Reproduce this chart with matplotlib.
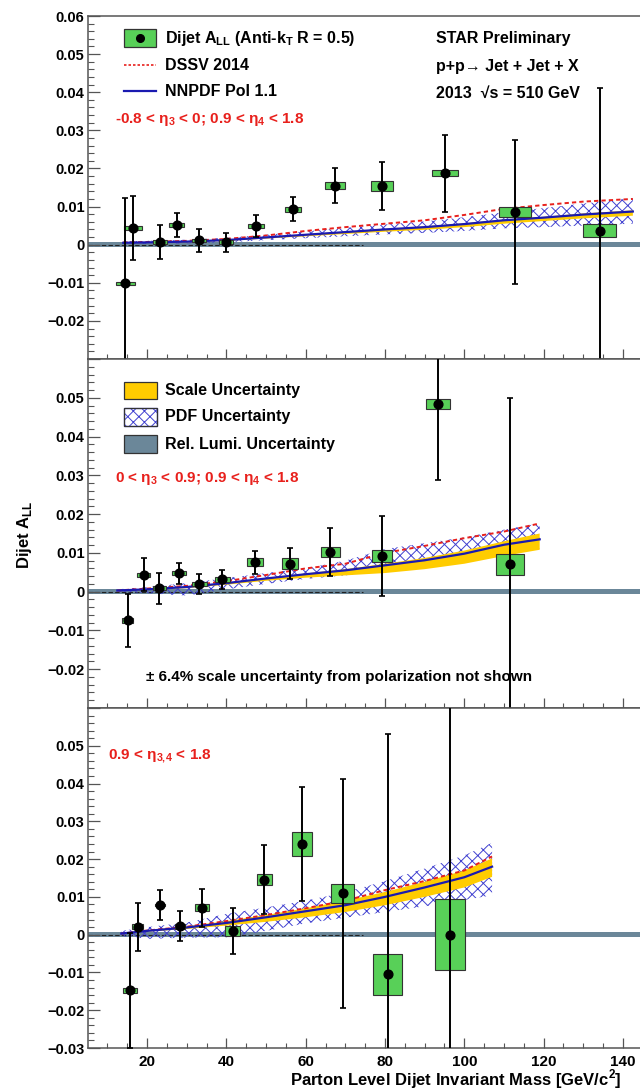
import matplotlib
matplotlib.use("Agg")
import matplotlib.pyplot as plt
from matplotlib.patches import Rectangle
from matplotlib.lines import Line2D
from matplotlib.ticker import MultipleLocator, FuncFormatter
import numpy as np

plt.rcParams['font.family'] = ['Liberation Sans', 'DejaVu Sans']
plt.rcParams['font.weight'] = 'bold'
plt.rcParams['hatch.linewidth'] = 0.7
plt.rcParams['axes.unicode_minus'] = True

# ---------------- data: top panel (-0.8<eta3<0; 0.9<eta4<1.8) ----------------
x_top = [14.5, 16.5, 23.3, 27.5, 33.1, 39.8, 47.5, 56.7, 67.4, 79.3, 95.2, 112.8, 134.1]
y_top = [-0.0101, 0.0044, 0.0007, 0.0051, 0.0011, 0.0006, 0.0049, 0.0093, 0.0155, 0.0154, 0.0188, 0.0086, 0.0036]
err_top = [0.0224, 0.0085, 0.0044, 0.0031, 0.0030, 0.0025, 0.0029, 0.0032, 0.0046, 0.0063, 0.0101, 0.0188, 0.0374]
sys_top = [0.0004, 0.0005, 0.0005, 0.0005, 0.0005, 0.0005, 0.0006, 0.0006, 0.0010, 0.0014, 0.0009, 0.0013, 0.0017]
bw_top = [4.9, 4.4, 3.4, 3.8, 3.5, 3.5, 4.0, 4.0, 5.0, 5.5, 6.5, 7.9, 8.4]

xth_top = [14, 20, 30, 40, 50, 60, 70, 80, 90, 100, 110, 120, 130, 142.5]
nnpdf_top = [0.0005, 0.0006, 0.0008, 0.0012, 0.0019, 0.0026, 0.0033, 0.0040, 0.0046, 0.0054, 0.0064, 0.0071, 0.0079, 0.0087]
dssv_top = [0.0006, 0.0007, 0.0010, 0.0015, 0.0024, 0.0036, 0.0046, 0.0055, 0.0064, 0.0078, 0.0094, 0.0104, 0.0113, 0.0120]
pdf_hi_top = [0.0009, 0.0010, 0.0013, 0.0018, 0.0026, 0.0035, 0.0044, 0.0053, 0.0061, 0.0072, 0.0085, 0.0096, 0.0108, 0.0122]
pdf_lo_top = [0.0001, 0.0002, 0.0003, 0.0006, 0.0012, 0.0017, 0.0022, 0.0027, 0.0031, 0.0036, 0.0043, 0.0046, 0.0050, 0.0055]
scale_hi_top = [0.0006, 0.0007, 0.0009, 0.0013, 0.0020, 0.0027, 0.0034, 0.0041, 0.0048, 0.0056, 0.0066, 0.0073, 0.0082, 0.0090]
scale_lo_top = [0.0004, 0.0005, 0.0006, 0.0010, 0.0016, 0.0022, 0.0028, 0.0034, 0.0039, 0.0046, 0.0055, 0.0062, 0.0069, 0.0076]

# ---------------- data: middle panel (0<eta3<0.9; 0.9<eta4<1.8) ----------------
x_mid = [15.1, 19.1, 23.1, 28.1, 33.2, 39.0, 47.2, 56.1, 66.2, 79.2, 93.3, 111.6]
y_mid = [-0.0074, 0.0044, 0.0009, 0.0048, 0.0020, 0.0032, 0.0076, 0.0072, 0.0102, 0.0092, 0.0484, 0.0071]
err_mid = [0.0069, 0.0043, 0.0040, 0.0027, 0.0026, 0.0024, 0.0030, 0.0040, 0.0062, 0.0102, 0.0195, 0.0428]
sys_mid = [0.0006, 0.0005, 0.0005, 0.0005, 0.0006, 0.0006, 0.0010, 0.0014, 0.0013, 0.0015, 0.0013, 0.0027]
bw_mid = [2.8, 3.5, 3.4, 3.5, 3.7, 3.6, 4.2, 4.0, 4.9, 5.2, 6.0, 7.1]

xth_mid = [12.5, 20, 30, 40, 50, 60, 70, 80, 90, 100, 110, 119]
nnpdf_mid = [0.0003, 0.0006, 0.0012, 0.0022, 0.0034, 0.0045, 0.0055, 0.0068, 0.0081, 0.0098, 0.0121, 0.0135]
dssv_mid = [0.0003, 0.0008, 0.0015, 0.0027, 0.0043, 0.0060, 0.0072, 0.0100, 0.0118, 0.0138, 0.0155, 0.0176]
pdf_hi_mid = [0.0006, 0.0012, 0.0022, 0.0035, 0.0048, 0.0060, 0.0080, 0.0110, 0.0125, 0.0140, 0.0160, 0.0176]
pdf_lo_mid = [0.0000, -0.0004, -0.0010, 0.0006, 0.0020, 0.0033, 0.0042, 0.0055, 0.0065, 0.0080, 0.0100, 0.0110]
scale_hi_mid = [0.0004, 0.0007, 0.0013, 0.0023, 0.0035, 0.0047, 0.0058, 0.0072, 0.0087, 0.0106, 0.0130, 0.0150]
scale_lo_mid = [0.0002, 0.0004, 0.0009, 0.0018, 0.0028, 0.0036, 0.0042, 0.0048, 0.0058, 0.0072, 0.0092, 0.0108]

# ---------------- data: bottom panel (0.9<eta3,4<1.8) ----------------
x_bot = [15.7, 17.6, 23.3, 28.3, 33.8, 41.6, 49.6, 59.0, 69.3, 80.7, 96.4]
y_bot = [-0.0147, 0.0021, 0.0078, 0.0022, 0.0071, 0.0009, 0.0146, 0.0240, 0.0109, -0.0105, 0.0000]
err_bot = [0.0152, 0.0064, 0.0039, 0.0040, 0.0051, 0.0061, 0.0091, 0.0152, 0.0303, 0.0635, 0.0650]
sys_bot = [0.0007, 0.0007, 0.0003, 0.0006, 0.0009, 0.0013, 0.0015, 0.0033, 0.0024, 0.0054, 0.0094]
bw_bot = [3.3, 2.6, 2.5, 2.6, 3.4, 3.8, 4.0, 5.0, 6.0, 7.3, 7.7]

xth_bot = [13.5, 20, 30, 40, 50, 60, 70, 80, 90, 100, 107]
nnpdf_bot = [0.0003, 0.0010, 0.0019, 0.0031, 0.0046, 0.0062, 0.0078, 0.0100, 0.0125, 0.0152, 0.0180]
dssv_bot = [0.0003, 0.0011, 0.0021, 0.0036, 0.0052, 0.0070, 0.0090, 0.0118, 0.0142, 0.0170, 0.0207]
pdf_hi_bot = [0.0010, 0.0020, 0.0032, 0.0055, 0.0072, 0.0090, 0.0112, 0.0142, 0.0175, 0.0210, 0.0243]
pdf_lo_bot = [-0.0004, -0.0011, -0.0008, -0.0007, 0.0010, 0.0030, 0.0045, 0.0060, 0.0075, 0.0092, 0.0104]
scale_hi_bot = [0.0004, 0.0012, 0.0022, 0.0036, 0.0052, 0.0070, 0.0090, 0.0113, 0.0140, 0.0170, 0.0202]
scale_lo_bot = [0.0002, 0.0008, 0.0015, 0.0024, 0.0034, 0.0046, 0.0060, 0.0078, 0.0100, 0.0125, 0.0153]

lumi_unc = 0.0006
xticks = [20, 40, 60, 80, 100, 120, 140]

# ---------------- styles ----------------
GREEN = '#58d058'
GOLD = '#ffcc00'
HATCH_C = '#4040d0'
LUMI = '#6b8799'
RED = '#e8201c'
BLUE = '#1a1ab0'
SPINE = '#555555'

W, H = 640, 1090
fig = plt.figure(figsize=(6.4, 10.9), dpi=100)

L = 88 / W
AW = 1 - L
ax_top = fig.add_axes([L, 1 - 359 / H, AW, 343 / H])
ax_mid = fig.add_axes([L, 1 - 708 / H, AW, 349 / H])
ax_bot = fig.add_axes([L, 1 - 1048 / H, AW, 340 / H])


def make_fmt(hidden):
    def f(v, pos):
        for h in hidden:
            if abs(v - h) < 1e-6:
                return ''
        if abs(v) < 1e-9:
            return '0'
        return ('%.2f' % v).replace('-', '\u2212')
    return FuncFormatter(f)


def draw_panel(ax, x, y, err, sysv, bw, xth, nn, ds, phi, plo, shi, slo, hidden, show_x):
    ax.set_xlim(5.1, 144.3)
    ax.set_ylim(-0.03, 0.06)
    ax.axhspan(-lumi_unc, lumi_unc, color=LUMI, lw=0, zorder=1)
    ax.hlines(0, 5.1, 74.5, colors='#222222', linestyles=(0, (4, 2)), lw=0.8, zorder=1.5)
    ax.fill_between(xth, plo, phi, facecolor='none', edgecolor=HATCH_C, hatch='xxx', lw=0, zorder=2)
    ax.fill_between(xth, slo, shi, facecolor=GOLD, edgecolor='none', lw=0, zorder=2.5)
    ax.plot(xth, ds, color=RED, lw=1.4, ls=(0, (2.2, 1.6)), zorder=3)
    ax.plot(xth, nn, color=BLUE, lw=1.6, zorder=3.2)
    ya = np.array(y)
    sa = np.array(sysv)
    ax.bar(x, 2 * sa, width=bw, bottom=ya - sa, color=GREEN, edgecolor='#333333', lw=0.8, zorder=4)
    ax.errorbar(x, y, yerr=err, fmt='o', color='k', ms=6.3, capsize=2.3, elinewidth=1.4,
                capthick=1.2, zorder=5)
    ax.yaxis.set_major_locator(MultipleLocator(0.01))
    ax.yaxis.set_minor_locator(MultipleLocator(0.002))
    ax.yaxis.set_major_formatter(make_fmt(hidden))
    ax.set_xticks(xticks)
    ax.xaxis.set_minor_locator(MultipleLocator(5))
    ax.tick_params(axis='y', which='major', direction='in', length=8.5, width=0.9, color=SPINE,
                   labelsize=10.5, pad=2.5)
    ax.tick_params(axis='y', which='minor', direction='in', length=4.5, width=0.8, color=SPINE)
    ax.tick_params(axis='x', which='major', direction='in', length=7, width=0.9, color=SPINE,
                   labelsize=11, pad=5, labelbottom=show_x)
    ax.tick_params(axis='x', which='minor', direction='in', length=3.5, width=0.8, color=SPINE)
    for lab in ax.get_yticklabels() + ax.get_xticklabels():
        lab.set_fontweight('bold')
    ax.spines['right'].set_visible(False)
    for s in ['left', 'bottom', 'top']:
        ax.spines[s].set_color(SPINE)
        ax.spines[s].set_linewidth(1.1)
    ax.set_facecolor('white')


draw_panel(ax_top, x_top, y_top, err_top, sys_top, bw_top, xth_top, nnpdf_top, dssv_top,
           pdf_hi_top, pdf_lo_top, scale_hi_top, scale_lo_top, [-0.03], False)
draw_panel(ax_mid, x_mid, y_mid, err_mid, sys_mid, bw_mid, xth_mid, nnpdf_mid, dssv_mid,
           pdf_hi_mid, pdf_lo_mid, scale_hi_mid, scale_lo_mid, [0.06, -0.03], False)
draw_panel(ax_bot, x_bot, y_bot, err_bot, sys_bot, bw_bot, xth_bot, nnpdf_bot, dssv_bot,
           pdf_hi_bot, pdf_lo_bot, scale_hi_bot, scale_lo_bot, [0.06], True)


# ---------------- annotations in figure pixel coordinates ----------------
def fx(px):
    return px / W


def fy(py):
    return 1 - py / H


def ftext(px, py, s, **kw):
    kw.setdefault('fontweight', 'bold')
    kw.setdefault('va', 'center')
    kw.setdefault('ha', 'left')
    fig.text(fx(px), fy(py), s, **kw)


def frect(x0, y0, x1, y1, **kw):
    fig.add_artist(Rectangle((fx(x0), fy(y1)), (x1 - x0) / W, (y1 - y0) / H,
                             transform=fig.transFigure, **kw))


def fline(x0, x1, py, **kw):
    fig.add_artist(Line2D([fx(x0), fx(x1)], [fy(py), fy(py)], transform=fig.transFigure, **kw))


# top legend
frect(124, 29, 156, 47, facecolor=GREEN, edgecolor='#333333', lw=0.9)
fig.add_artist(Line2D([fx(140)], [fy(38)], marker='o', ms=5.5, color='k', transform=fig.transFigure))
ftext(165, 38, 'Dijet A$_{\\mathregular{LL}}$ (Anti-k$_{\\mathregular{T}}$ R = 0.5)', fontsize=11.5)
fline(124, 156, 65, color=RED, lw=1.2, ls=(0, (1.5, 1.2)))
ftext(165, 65, 'DSSV 2014', fontsize=11.5)
fline(124, 156, 91, color=BLUE, lw=1.6)
ftext(165, 91, 'NNPDF Pol 1.1', fontsize=11.5)
ftext(436, 38, 'STAR Preliminary', fontsize=11.5)
ftext(436, 66, 'p+p\u2192 Jet + Jet + X', fontsize=11.5)
ftext(436, 93, '2013  \u221as = 510 GeV', fontsize=11.5)
ftext(115, 119, '-0.8 < \u03b7$_{\\mathregular{3}}$ < 0; 0.9 < \u03b7$_{\\mathregular{4}}$ < 1.8',
      fontsize=11, color=RED)

# middle legend
frect(124, 382, 157, 399, facecolor=GOLD, edgecolor='#333333', lw=0.9)
ftext(165, 391, 'Scale Uncertainty', fontsize=11.5)
frect(124, 408, 157, 426, facecolor='white', edgecolor=HATCH_C, hatch='xxx', lw=0.9)
frect(124, 408, 157, 426, facecolor='none', edgecolor='#333333', lw=0.9)
ftext(165, 417, 'PDF Uncertainty', fontsize=11.5)
frect(124, 435, 157, 453, facecolor=LUMI, edgecolor='#333333', lw=0.9)
ftext(165, 444, 'Rel. Lumi. Uncertainty', fontsize=11.5)
ftext(115, 478, '0 < \u03b7$_{\\mathregular{3}}$ < 0.9; 0.9 < \u03b7$_{\\mathregular{4}}$ < 1.8',
      fontsize=11, color=RED)
ftext(146, 677, '\u00b1 6.4% scale uncertainty from polarization not shown', fontsize=11)

# bottom panel label
ftext(108, 756, '0.9 < \u03b7$_{\\mathregular{3,\\!4}}$ < 1.8', fontsize=11, color=RED)

# axis titles
ftext(622, 1079, 'Parton Level Dijet Invariant Mass [GeV/c$^{\\mathregular{2}}$]', fontsize=12, ha='right')
ftext(25, 535, 'Dijet A$_{\\mathregular{LL}}$', fontsize=12, rotation=90, ha='center')

fig.savefig('out.png', dpi=100)
